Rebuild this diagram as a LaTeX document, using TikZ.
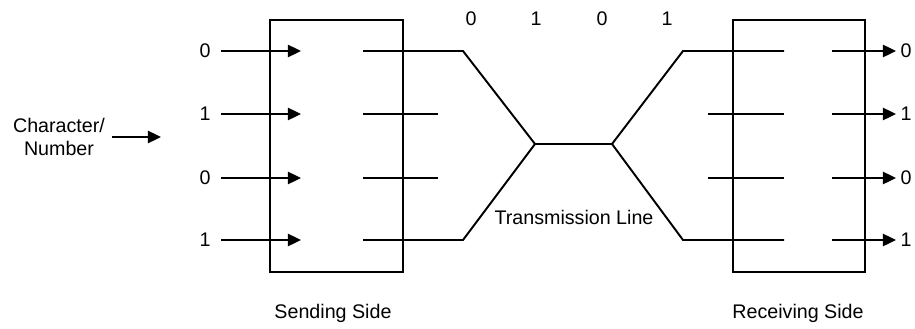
\documentclass[tikz,border=0pt]{standalone}
\usepackage{fontspec}
\setmainfont{Liberation Sans}
\usetikzlibrary{arrows.meta}
\begin{document}
\begin{tikzpicture}[x=0.02cm,y=-0.02cm,
            linea/.style={line width=1.1pt},
            flecha/.style={line width=1.1pt,-{Triangle[length=7.5pt,width=7pt]}},
            caja/.style={draw,line width=0.8pt,minimum height=5.04cm,inner sep=0pt},
            txt/.style={font=\fontsize{11.2}{13.2}\selectfont,inner sep=1pt}]
            \useasboundingbox (0,0) rectangle (915,328);
            \node[caja,minimum width=2.66cm] (emisor) at (336.5,146) {}; % lado emisor
            \node[caja,minimum width=2.64cm] (receptor) at (799,146) {}; % lado receptor
            \node[txt] (lemisor) at (333,313) {Sending Side};
            \node[txt] (lreceptor) at (798,313) {Receiving Side};
            \node[txt,align=center] (dato) at (59,137) {Character/\\Number};
            \draw[flecha] (112,137) -- (161,137);
            \foreach \y/\b [count=\i] in {51/0,114/1,178/0,240/1}
            {
            \node[txt] (e\i) at (205,\y) {\b}; % bits de entrada
            \draw[flecha] (221,\y) -- (301,\y);
            \node[txt] (s\i) at (906,\y) {\b}; % bits de salida
            \draw[flecha] (832,\y) -- (896,\y);
            }
            \foreach \x/\b [count=\i] in {471/0,536/1,602/0,667/1}
            \node[txt] (t\i) at (\x,19) {\b}; % bits en la linea
            \draw[linea] (363,114) -- (438,114);
            \draw[linea] (363,178) -- (438,178);
            \draw[linea] (708,114) -- (784,114);
            \draw[linea] (708,178) -- (784,178);
            \coordinate (a) at (535,144);
            \coordinate (b) at (612,144);
            \draw[linea] (363,51) -- (463,51) -- (a) -- (b) -- (683,51) -- (784,51);
            \draw[linea] (363,240) -- (463,240) -- (a);
            \draw[linea] (b) -- (683,240) -- (784,240);
            \node[txt] (linea) at (574,217) {Transmission Line};
            \end{tikzpicture}
\end{document}
